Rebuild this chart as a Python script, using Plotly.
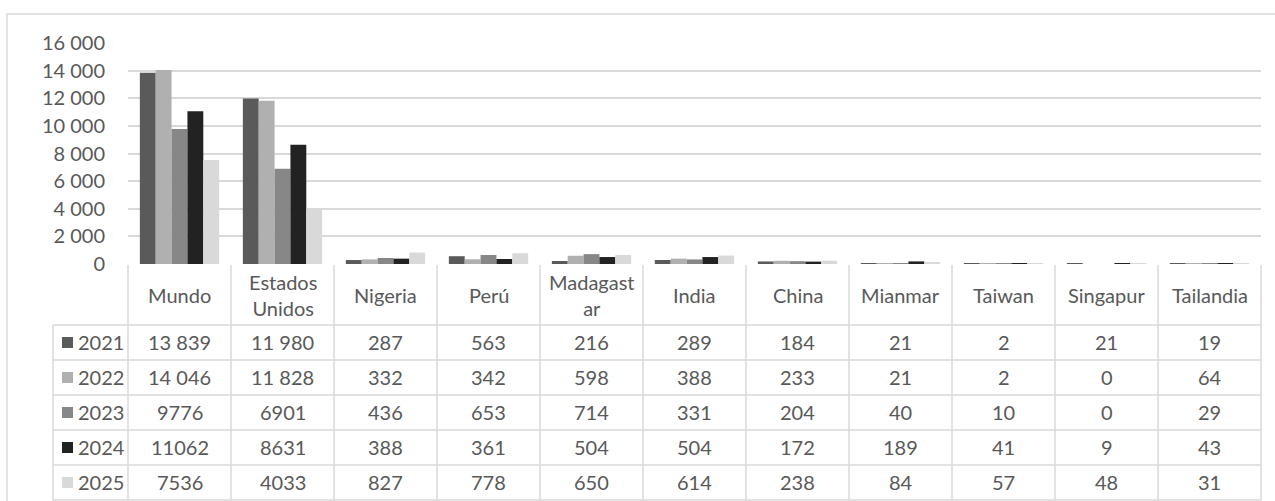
import plotly.graph_objects as go

COUNTRIES = ["Mundo", "Estados Unidos", "Nigeria", "Perú", "Madagastar", "India",
             "China", "Mianmar", "Taiwan", "Singapur", "Tailandia"]
HEADER_LABELS = ["Mundo", "Estados<br>Unidos", "Nigeria", "Perú", "Madagast<br>ar", "India",
                 "China", "Mianmar", "Taiwan", "Singapur", "Tailandia"]
YEARS = ["2021", "2022", "2023", "2024", "2025"]
V2021 = [13839, 11980, 287, 563, 216, 289, 184, 21, 2, 21, 19]
V2022 = [14046, 11828, 332, 342, 598, 388, 233, 21, 2, 0, 64]
V2023 = [9776, 6901, 436, 653, 714, 331, 204, 40, 10, 0, 29]
V2024 = [11062, 8631, 388, 361, 504, 504, 172, 189, 41, 9, 43]
V2025 = [7536, 4033, 827, 778, 650, 614, 238, 84, 57, 48, 31]
VALUES = [V2021, V2022, V2023, V2024, V2025]
GROUPED = [True, True, False, False, False]  # the table shows thousands spaces only for these rows

COLORS = ["#5a5a5a", "#b0b0b0", "#878787", "#222222", "#d9d9d9"]
LINE = "#d9d9d9"
TEXT = "#595959"
FONT = "Lato, Arial, sans-serif"
FS = 20

W, H = 1275, 501
# pixel layout
PLOT_L, PLOT_R = 128, 1261
PLOT_TOP, PLOT_BOT = 43, 264
LEG_L = 53
COL_W = (PLOT_R - PLOT_L) / len(COUNTRIES)
TAB_TOP = 265
HEAD_H, ROW_H = 60, 35


def fmt(v, grouped):
    return f"{v:,}".replace(",", " ") if grouped else str(v)


fig = go.Figure()
for year, vals, color in zip(YEARS, VALUES, COLORS):
    fig.add_trace(
        go.Bar(
            x=COUNTRIES,
            y=vals,
            name=year,
            marker={"color": color, "line": {"width": 0}},
            hovertemplate="%{x}<br>" + year + ": %{y}<extra></extra>",
        )
    )

# table axes: x2 in column units (column i centred at i), y2 in pixels below table top
pad = 2
x2_lo = -0.5 - (PLOT_L - LEG_L + pad) / COL_W
x2_hi = len(COUNTRIES) - 0.5 + pad / COL_W
y2_bottom = H - TAB_TOP

shapes = []
ann = []
tab_bot = HEAD_H + ROW_H * len(YEARS)
# outer border of the chart
shapes.append(dict(type="rect", xref="paper", yref="paper",
                   x0=7 / W, x1=1290 / W, y0=-20 / H, y1=(H - 14) / H,
                   line={"color": LINE, "width": 1.5}, layer="below"))
# vertical table lines
for i in range(len(COUNTRIES) + 1):
    shapes.append(dict(type="line", xref="x2", yref="y2", x0=i - 0.5, x1=i - 0.5,
                       y0=0, y1=tab_bot, line={"color": LINE, "width": 1.5}))
leg_x = -0.5 - (PLOT_L - LEG_L) / COL_W
shapes.append(dict(type="line", xref="x2", yref="y2", x0=leg_x, x1=leg_x,
                   y0=HEAD_H, y1=tab_bot, line={"color": LINE, "width": 1.5}))
# horizontal table lines
for k in range(len(YEARS) + 1):
    y = HEAD_H + ROW_H * k
    shapes.append(dict(type="line", xref="x2", yref="y2", x0=leg_x, x1=len(COUNTRIES) - 0.5,
                       y0=y, y1=y, line={"color": LINE, "width": 1.5}))

# header cells
for i, lab in enumerate(HEADER_LABELS):
    ann.append(dict(xref="x2", yref="y2", x=i, y=HEAD_H / 2, text=lab, showarrow=False,
                    font={"size": FS, "color": TEXT, "family": FONT}, align="center"))
# rows
for k, (year, vals, color, grp) in enumerate(zip(YEARS, VALUES, COLORS, GROUPED)):
    yc = HEAD_H + ROW_H * k + ROW_H / 2
    shapes.append(dict(type="rect", xref="x2", yref="y2",
                       x0=leg_x + 9 / COL_W, x1=leg_x + 20 / COL_W,
                       y0=yc - 5.5, y1=yc + 5.5, fillcolor=color, line={"width": 0}))
    ann.append(dict(xref="x2", yref="y2", x=leg_x + 23 / COL_W, y=yc, text=year,
                    xanchor="left", showarrow=False,
                    font={"size": FS, "color": TEXT, "family": FONT}))
    for i, v in enumerate(vals):
        ann.append(dict(xref="x2", yref="y2", x=i, y=yc, text=fmt(v, grp), showarrow=False,
                        font={"size": FS, "color": TEXT, "family": FONT}))

fig.update_layout(
    width=W,
    height=H,
    autosize=False,
    margin={"l": 0, "r": 0, "t": 0, "b": 0},
    paper_bgcolor="white",
    plot_bgcolor="white",
    showlegend=False,
    barmode="group",
    bargap=0.23,
    bargroupgap=0,
    separators=", ",
    font={"family": FONT, "color": TEXT, "size": FS},
    shapes=shapes,
    annotations=ann,
    xaxis={"domain": [PLOT_L / W, PLOT_R / W], "showticklabels": False, "showgrid": False,
           "zeroline": False, "showline": False, "fixedrange": True},
    yaxis={"domain": [(H - PLOT_BOT) / H, (H - PLOT_TOP) / H], "range": [0, 16000],
           "dtick": 2000, "tickformat": ",d", "gridcolor": LINE, "gridwidth": 1.5,
           "zeroline": False, "showline": False, "automargin": False,
           "ticklabelstandoff": 22, "tickfont": {"size": FS, "color": TEXT, "family": FONT}},
    xaxis2={"domain": [(LEG_L - pad) / W, (PLOT_R + pad) / W], "range": [x2_lo, x2_hi],
            "visible": False, "anchor": "y2", "fixedrange": True},
    yaxis2={"domain": [0, (H - TAB_TOP + 1) / H], "range": [y2_bottom, -1],
            "visible": False, "anchor": "x2", "fixedrange": True},
)
# dummy invisible trace so the x2/y2 subplot exists
fig.add_trace(go.Scatter(x=[0], y=[0], xaxis="x2", yaxis="y2", mode="markers",
                         marker={"opacity": 0}, hoverinfo="skip"))

fig.write_html("out.html", config={"displayModeBar": False},
               post_script="document.body.style.margin = '0px';")
